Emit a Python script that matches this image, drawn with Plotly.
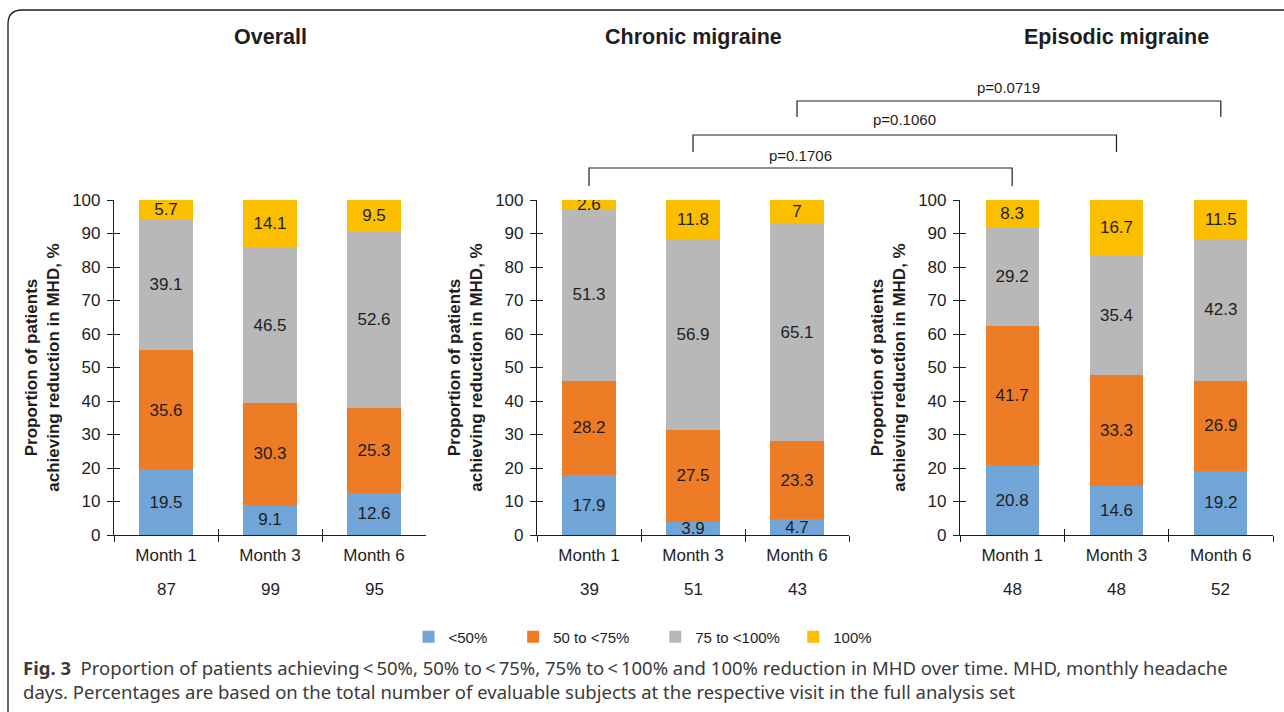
import plotly.graph_objects as go

W, H = 1284, 712

# ---------------- data ----------------
months = ["Month 1", "Month 3", "Month 6"]
panels = ["Overall", "Chronic migraine", "Episodic migraine"]
bands = ["<50%", "50 to <75%", "75 to <100%", "100%"]
band_labels = ["&lt;50%", "50 to &lt;75%", "75 to &lt;100%", "100%"]

overall_lt50 = [19.5, 9.1, 12.6]
overall_50_75 = [35.6, 30.3, 25.3]
overall_75_100 = [39.1, 46.5, 52.6]
overall_100 = [5.7, 14.1, 9.5]

chronic_lt50 = [17.9, 3.9, 4.7]
chronic_50_75 = [28.2, 27.5, 23.3]
chronic_75_100 = [51.3, 56.9, 65.1]
chronic_100 = [2.6, 11.8, 7]

episodic_lt50 = [20.8, 14.6, 19.2]
episodic_50_75 = [41.7, 33.3, 26.9]
episodic_75_100 = [29.2, 35.4, 42.3]
episodic_100 = [8.3, 16.7, 11.5]

n_overall = [87, 99, 95]
n_chronic = [39, 51, 43]
n_episodic = [48, 48, 52]

p_values = ["p=0.1706", "p=0.1060", "p=0.0719"]  # chronic vs episodic at Month 1, 3, 6

panel_series = [
    [overall_lt50, overall_50_75, overall_75_100, overall_100],
    [chronic_lt50, chronic_50_75, chronic_75_100, chronic_100],
    [episodic_lt50, episodic_50_75, episodic_75_100, episodic_100],
]
panel_n = [n_overall, n_chronic, n_episodic]

# ---------------- style ----------------
colors = ["#71A5D8", "#EE7B25", "#B8B8B8", "#FBBF00"]
legend_pad = [5, 5, 2, 0]  # non-breaking spaces to space legend entries like the original
FONT = "Liberation Sans, Arial, Helvetica, sans-serif"
CAP_FONT = "Noto Sans, Open Sans, sans-serif"
INK = "#1e1e1e"


def px_x(x):
    return x / W


def px_y(y):
    return 1 - y / H


x_domains_px = [(114, 426), (537, 849), (960, 1273)]
y_dom = [px_y(535), px_y(200)]

fig = go.Figure()
layout = {}
annotations = []
shapes = []

for k in range(3):
    xa = "x" if k == 0 else f"x{k+1}"
    ya = "y" if k == 0 else f"y{k+1}"
    for b in range(4):
        vals = panel_series[k][b]
        fig.add_trace(go.Bar(
            x=months, y=vals, xaxis=xa, yaxis=ya,
            name=band_labels[b] + "\u00a0" * legend_pad[b],
            legendgroup=bands[b], showlegend=(k == 0),
            marker=dict(color=colors[b], line=dict(width=0)),
            width=0.51,
            text=[f"{v:g}" for v in vals],
            textposition="inside", insidetextanchor="middle", textangle=0,
            textfont=dict(family=FONT, size=17, color=INK),
            hoverinfo="skip",
        ))
    d0, d1 = x_domains_px[k]
    dom = [px_x(d0), px_x(d1)]
    layout["xaxis" if k == 0 else f"xaxis{k+1}"] = dict(
        domain=dom, anchor=ya, type="category", categoryarray=months,
        categoryorder="array", range=[-0.5, 2.5], automargin=False,
        showline=True, linecolor=INK, linewidth=1.2,
        ticks="outside", tickson="boundaries", ticklen=6, tickcolor=INK, tickwidth=1.2,
        ticklabelstandoff=4,
        tickfont=dict(family=FONT, size=17, color=INK),
        showgrid=False, zeroline=False, fixedrange=True,
    )
    layout["yaxis" if k == 0 else f"yaxis{k+1}"] = dict(
        domain=y_dom, anchor=xa, range=[0, 100], tick0=0, dtick=10, automargin=False,
        showline=True, linecolor=INK, linewidth=1.2,
        ticks="outside", ticklen=6, tickcolor=INK, tickwidth=1.2,
        ticklabelstandoff=3,
        tickfont=dict(family=FONT, size=17, color=INK),
        showgrid=False, zeroline=False, fixedrange=True,
        title=dict(text="<b>Proportion of patients<br>achieving reduction in MHD, %</b>",
                   font=dict(family=FONT, size=17, color=INK), standoff=8),
    )
    # overlay axes for the inner half of the crossing tick marks
    ox, oy = f"x{k+4}", f"y{k+4}"
    fig.add_trace(go.Scatter(x=[None], y=[None], xaxis=ox, yaxis=oy,
                             showlegend=False, hoverinfo="skip"))
    layout[f"xaxis{k+4}"] = dict(
        overlaying=xa, anchor=oy, range=[-0.5, 2.5], automargin=False,
        tickvals=[-0.5, 0.5, 1.5, 2.5], ticks="inside", ticklen=6,
        tickcolor=INK, tickwidth=1.2, showticklabels=False,
        showline=False, showgrid=False, zeroline=False, fixedrange=True,
    )
    layout[f"yaxis{k+4}"] = dict(
        overlaying=ya, anchor=ox, range=[0, 100], tick0=0, dtick=10, automargin=False,
        ticks="inside", ticklen=6, tickcolor=INK, tickwidth=1.2,
        showticklabels=False, showline=False, showgrid=False,
        zeroline=False, fixedrange=True,
    )
    # panel title
    annotations.append(dict(
        text=f"<b>{panels[k]}</b>", x=(dom[0] + dom[1]) / 2, y=px_y(37),
        xref="paper", yref="paper", showarrow=False, xanchor="center", yanchor="middle",
        font=dict(family=FONT, size=21.5, color=INK),
    ))
    # N row under the month labels
    for i, m in enumerate(months):
        annotations.append(dict(
            text=str(panel_n[k][i]), x=m, xref=xa, y=px_y(589), yref="paper",
            showarrow=False, yanchor="middle",
            font=dict(family=FONT, size=17, color=INK),
        ))

# significance brackets: chronic month i vs episodic month i
bracket_top = [168, 135, 101]
bracket_bot = [186, 152, 117]
text_y = [155, 120, 88]
cd0, cd1 = x_domains_px[1]
ed0, ed1 = x_domains_px[2]
for i, p in enumerate(p_values):
    xl = px_x(cd0 + (i + 0.5) / 3 * (cd1 - cd0))
    xr = px_x(ed0 + (i + 0.5) / 3 * (ed1 - ed0))
    yt, yb = px_y(bracket_top[i]), px_y(bracket_bot[i])
    shapes.append(dict(
        type="path", xref="paper", yref="paper",
        path=f"M{xl},{yb} L{xl},{yt} L{xr},{yt} L{xr},{yb}",
        line=dict(color=INK, width=1.2),
    ))
    annotations.append(dict(
        text=p, x=(xl + xr) / 2, y=px_y(text_y[i]), xref="paper", yref="paper",
        showarrow=False, xanchor="center", yanchor="middle",
        font=dict(family=FONT, size=15, color=INK),
    ))

# frame with rounded top-left corner
fx0, fy0, r = 8, 10, 14
shapes.append(dict(
    type="path", xref="paper", yref="paper",
    path=(f"M{px_x(fx0)},{px_y(712)} L{px_x(fx0)},{px_y(fy0 + r)} "
          f"Q{px_x(fx0)},{px_y(fy0)} {px_x(fx0 + r)},{px_y(fy0)} L{px_x(1290)},{px_y(fy0)}"),
    line=dict(color=INK, width=1.3),
))

# caption
annotations.append(dict(
    text=("<b>Fig. 3</b>\u00a0\u00a0Proportion of patients achieving\u2009&lt;\u200950%, 50% to\u2009&lt;\u200975%, "
          "75% to\u2009&lt;\u2009100% and 100% reduction in MHD over time. MHD, monthly headache<br>"
          "days. Percentages are based on the total number of evaluable subjects at the respective visit "
          "in the full analysis set"),
    x=px_x(21), y=px_y(679.5), xref="paper", yref="paper", xanchor="left", yanchor="middle",
    align="left", showarrow=False,
    font=dict(family=CAP_FONT, size=18.5, color="#3a3a3a"),
))

fig.update_layout(
    width=W, height=H, margin=dict(l=0, r=0, t=0, b=0, autoexpand=False),
    paper_bgcolor="white", plot_bgcolor="white",
    barmode="stack", bargap=0.49,
    uniformtext=dict(minsize=17, mode="show"),
    showlegend=True,
    legend=dict(orientation="h", x=px_x(643), xanchor="center", y=px_y(637), yanchor="middle",
                font=dict(family=FONT, size=15, color=INK), itemclick=False,
                itemdoubleclick=False, traceorder="normal", bgcolor="rgba(0,0,0,0)"),
    annotations=annotations, shapes=shapes,
    **layout,
)

fig.write_html(
    "out.html",
    config={"displayModeBar": False},
    post_script="document.body.style.margin='0';document.body.style.padding='0';"
                "document.documentElement.style.overflow='hidden';",
)
